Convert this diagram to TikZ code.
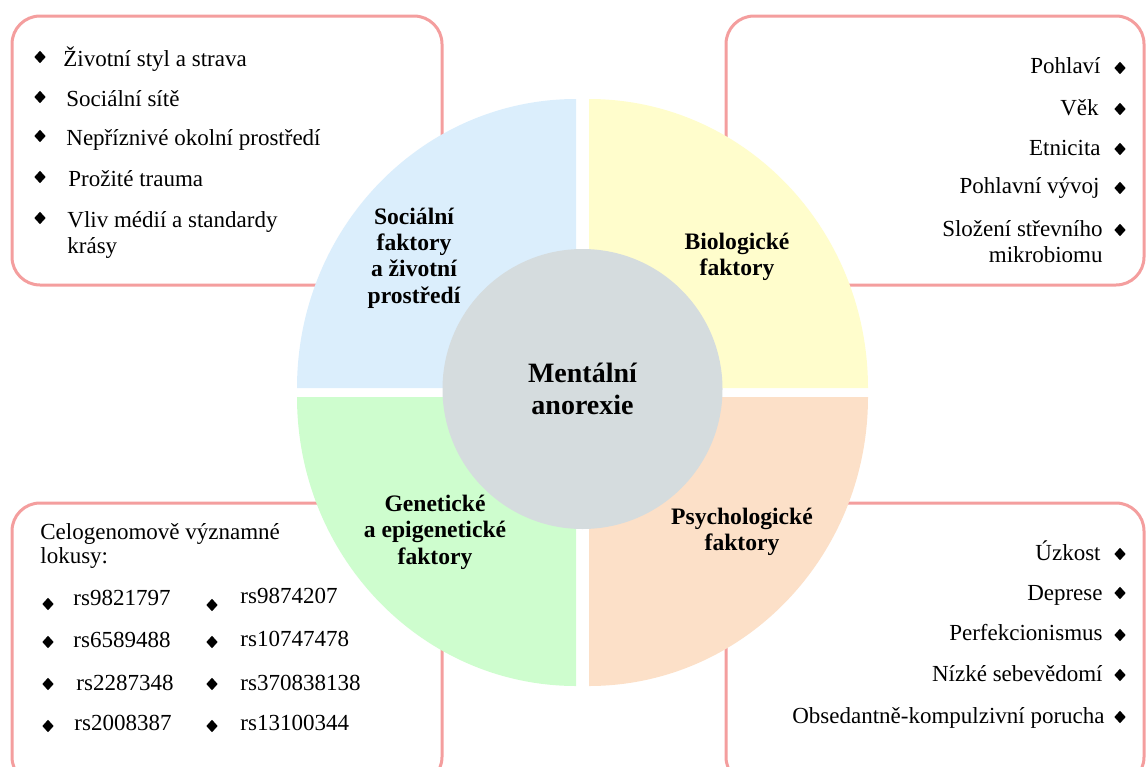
\documentclass[tikz,border=0pt]{standalone}
\usepackage{fontspec}
\setmainfont{Liberation Serif}
\usetikzlibrary{shapes.geometric}
\definecolor{rose}{RGB}{244,158,158}
\definecolor{bleu}{RGB}{219,238,252}
\definecolor{jaune}{RGB}{255,253,204}
\definecolor{vert}{RGB}{206,253,206}
\definecolor{peche}{RGB}{252,224,200}
\definecolor{gris}{RGB}{213,220,222}
\begin{document}
\begin{tikzpicture}[x=0.5pt,y=-0.5pt,
  cadre/.style={draw=rose, line width=1.5pt, rounded corners=14pt, fill=white},
  puce/.style={diamond, fill=black, inner sep=0pt, minimum width=5.8pt, minimum height=6.4pt},
  item/.style={font=\fontsize{11.5}{13}\selectfont, inner sep=0pt},
  titre/.style={font=\fontsize{11.8}{13.2}\selectfont\bfseries, align=center, inner sep=0pt}]
\useasboundingbox (0,0) rectangle (1146,766);

%cadres
\draw[cadre] (12,16) rectangle (442,285);
\draw[cadre] (726,16) rectangle (1144,285);
\draw[cadre] (12,503) rectangle (442,785);
\draw[cadre] (726,503) rectangle (1144,785);

%quartiers
\fill[bleu] (576,388) -- ++(-279,0) arc[start angle=180, end angle=270, x radius=279, y radius=289] -- cycle;
\fill[jaune] (589,388) -- ++(279,0) arc[start angle=0, end angle=-90, x radius=279, y radius=289] -- cycle;
\fill[vert] (576,397) -- ++(-279,0) arc[start angle=180, end angle=90, x radius=279, y radius=289] -- cycle;
\fill[peche] (589,397) -- ++(279,0) arc[start angle=0, end angle=90, x radius=279, y radius=289] -- cycle;

\node[circle, fill=gris, minimum size=140pt, inner sep=0pt, align=center,
  font=\fontsize{14}{16}\selectfont\bfseries] (centre) at (582.5,389) {Mentální\\anorexie};

\node[titre] (social) at (414,258) {Sociální\\faktory\\a životní\\prostředí};
\node[titre] (bio) at (737,257) {Biologické\\faktory};
\node[titre] (gen) at (435,532) {Genetické\\a epigenetické\\faktory};
\node[titre] (psy) at (742,532) {Psychologické\\faktory};

%socialni faktory
\node[puce] (ps1) at (40,57) {};
\node[item, anchor=base west] (s1) at (63,66) {Životní styl a strava};
\node[puce] (ps2) at (40,97) {};
\node[item, anchor=base west] (s2) at (66,106) {Sociální sítě};
\node[puce] (ps3) at (40,136) {};
\node[item, anchor=base west] (s3) at (66,145) {Nepříznivé okolní prostředí};
\node[puce] (ps4) at (40,177) {};
\node[item, anchor=base west] (s4) at (68,186) {Prožité trauma};
\node[puce] (ps5) at (40,218) {};
\node[item, anchor=west, align=left] (s5) at (67,235) {Vliv médií a standardy\\krásy};

%biologicke faktory
\node[puce] (pb1) at (1120,68) {};
\node[item, anchor=base east] (b1) at (1101,73) {Pohlaví};
\node[puce] (pb2) at (1120,109) {};
\node[item, anchor=base east] (b2) at (1099,115) {Věk};
\node[puce] (pb3) at (1120,149) {};
\node[item, anchor=base east] (b3) at (1101,155) {Etnicita};
\node[puce] (pb4) at (1120,188) {};
\node[item, anchor=base east] (b4) at (1100,193) {Pohlavní vývoj};
\node[puce] (pb5) at (1120,230) {};
\node[item, anchor=east, align=right] (b5) at (1103,242) {Složení střevního\\mikrobiomu};

%geneticke faktory
\node[item, anchor=west, align=left, font=\fontsize{11.5}{12}\selectfont] (lok) at (40,546) {Celogenomově významné\\lokusy:};
\node[puce] (pg1) at (48,604) {};
\node[item, anchor=base west] (g1) at (73,605) {rs9821797};
\node[puce] (pg2) at (48,642) {};
\node[item, anchor=base west] (g2) at (73,647) {rs6589488};
\node[puce] (pg3) at (48,684) {};
\node[item, anchor=base west] (g3) at (76,690) {rs2287348};
\node[puce] (pg4) at (48,726) {};
\node[item, anchor=base west] (g4) at (74,730) {rs2008387};
\node[puce] (pg5) at (212,605) {};
\node[item, anchor=base west] (g5) at (240,603) {rs9874207};
\node[puce] (pg6) at (212,642) {};
\node[item, anchor=base west] (g6) at (240,646) {rs10747478};
\node[puce] (pg7) at (212,684) {};
\node[item, anchor=base west] (g7) at (240,690) {rs370838138};
\node[puce] (pg8) at (212,726) {};
\node[item, anchor=base west] (g8) at (240,730) {rs13100344};

%psychologicke faktory
\node[puce] (pp1) at (1120,554) {};
\node[item, anchor=base east] (p1) at (1101,560) {Úzkost};
\node[puce] (pp2) at (1120,593) {};
\node[item, anchor=base east] (p2) at (1103,600) {Deprese};
\node[puce] (pp3) at (1120,635) {};
\node[item, anchor=base east] (p3) at (1103,640) {Perfekcionismus};
\node[puce] (pp4) at (1120,675) {};
\node[item, anchor=base east] (p4) at (1103,681) {Nízké sebevědomí};
\node[puce] (pp5) at (1120,717) {};
\node[item, anchor=base east] (p5) at (1105,723) {Obsedantně-kompulzivní porucha};

\end{tikzpicture}
\end{document}
